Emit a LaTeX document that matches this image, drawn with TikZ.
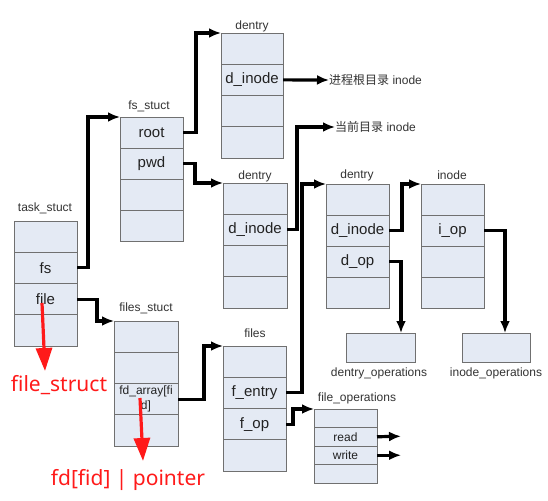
\documentclass[tikz,border=0pt]{standalone}
\usepackage{fontspec}
\setmainfont{Liberation Sans}
\newfontfamily\cjk{Noto Sans CJK SC}
\newfontfamily\redf{Noto Sans}
\usetikzlibrary{arrows.meta,calc}
\definecolor{boxgray}{HTML}{707070}
\definecolor{boxfill}{HTML}{E4EAF4}
\definecolor{txt}{HTML}{222222}
\definecolor{lbl}{HTML}{333333}
\definecolor{redc}{HTML}{FF1A1A}
\begin{document}
\begin{tikzpicture}[x=1pt,y=-1pt,
  cell/.style={draw=boxgray, fill=boxfill, line width=0.9pt, inner sep=0pt, outer sep=0pt,
    anchor=north west, minimum width=63pt, minimum height=31.25pt,
    font=\fontsize{15}{17}\selectfont, text=txt},
  smallcell/.style={cell, minimum height=18.5pt, font=\fontsize{12}{14}\selectfont},
  title/.style={font=\fontsize{12}{14}\selectfont, text=lbl, inner sep=0pt},
  conn/.style={line width=3.2pt, black, -{Latex[length=12pt,width=10pt]}},
  redarrow/.style={line width=3.2pt, redc, -{Triangle[length=23pt,width=16pt]}},
  redlbl/.style={font=\redf\fontsize{21}{24}\selectfont, text=redc, inner sep=0pt}
]
\useasboundingbox (0,0) rectangle (548,500);
\fill[white] (0,0) rectangle (548,500);

% task_stuct
\node[title] (ltask) at (45,208) {task\_stuct};
\node[cell] (t1) at (14,221) {};
\node[cell] (t2) at (14,252.25) {fs};
\node[cell] (t3) at (14,283.5) {file};
\node[cell] (t4) at (14,314.75) {};

% fs_stuct
\node[title] (lfs) at (149,106) {fs\_stuct};
\node[cell, minimum height=31pt] (f1) at (120,117) {root};
\node[cell, minimum height=31pt] (f2) at (120,148) {pwd};
\node[cell, minimum height=31pt] (f3) at (120,179) {};
\node[cell, minimum height=31pt] (f4) at (120,210) {};

% dentry (root)
\node[title] (ld1) at (252,26) {dentry};
\node[cell, minimum width=62pt] (da) at (221,33) {};
\node[cell, minimum width=62pt] (db) at (221,64.25) {d\_inode};
\node[cell, minimum width=62pt] (dc) at (221,95.5) {};
\node[cell, minimum width=62pt] (dd) at (221,126.75) {};

% dentry (pwd)
\node[title] (ld2) at (255,176) {dentry};
\node[cell, minimum width=64pt] (ea) at (223,183) {};
\node[cell, minimum width=64pt] (eb) at (223,214.25) {d\_inode};
\node[cell, minimum width=64pt] (ec) at (223,245.5) {};
\node[cell, minimum width=64pt] (ed) at (223,276.75) {};

% dentry (file)
\node[title] (ld3) at (357,175) {dentry};
\node[cell, minimum height=31pt] (ga) at (326,184) {};
\node[cell, minimum height=31pt] (gb) at (326,215) {d\_inode};
\node[cell, minimum height=31pt] (gc) at (326,246) {d\_op};
\node[cell, minimum height=31pt] (gd) at (326,277) {};

% inode
\node[title] (lin) at (452,175) {inode};
\node[cell, minimum height=31pt] (ia) at (421,184) {};
\node[cell, minimum height=31pt] (ib) at (421,215) {i\_op};
\node[cell, minimum height=31pt] (ic) at (421,246) {};
\node[cell, minimum height=31pt] (id) at (421,277) {};

% operations boxes
\node[cell, minimum width=69pt, minimum height=29pt] (dops) at (346,333) {};
\node[title] (ldops) at (379,373) {dentry\_operations};
\node[cell, minimum width=68pt, minimum height=29pt] (iops) at (462,333) {};
\node[title] (liops) at (496,373) {inode\_operations};

% files_stuct
\node[title] (lfss) at (146,308) {files\_stuct};
\node[cell, minimum width=64pt] (sa) at (114,321) {};
\node[cell, minimum width=64pt] (sb) at (114,352.25) {};
\node[cell, minimum width=64pt, font=\fontsize{12}{15.5}\selectfont, align=center] (sc) at (114,383.5) {fd\_array[fi\\d]};
\node[cell, minimum width=64pt] (sd) at (114,414.75) {};

% files
\node[title] (lfi) at (255,333) {files};
\node[cell] (ha) at (223,346) {};
\node[cell] (hb) at (223,377.25) {f\_entry};
\node[cell] (hc) at (223,408.5) {f\_op};
\node[cell] (hd) at (223,439.75) {};

% file_operations
\node[title] (lfo) at (357,398) {file\_operations};
\node[smallcell] (oa) at (314,409) {};
\node[smallcell] (ob) at (314,427.5) {read};
\node[smallcell] (oc) at (314,446) {write};
\node[smallcell] (od) at (314,464.5) {};

% inode labels
\node[title, anchor=west] (root) at (329,80) {{\cjk 进程根目录} inode};
\node[title, anchor=west] (cwd) at (335,127) {{\cjk 当前目录} inode};

% connectors
\draw[conn] (t2.east) -- ++(11,0) |- (f1.north west);
\draw[conn] (f1.east) -- ++(13,0) |- (da.north west);
\draw[conn] (f2.east) -- ++(12,0) |- (ea.north west);
\draw[conn] (db.east) -- (root.west);
\draw[conn] (eb.east) -- ++(10,0) |- (cwd.west);
\draw[conn] (t3.east) -- ++(20,0) |- (sa.north west);
\draw[conn] (sc.east) -- ++(26,0) |- (ha.north west);
\draw[conn] (hb.east) -- ++(16,0) |- (ga.north west);
\draw[conn] (gb.east) -- ++(13,0) |- (ia.north west);
\draw[conn] (gc.east) -- ++(12,0) coordinate (kd) -- (kd |- dops.north);
\draw[conn] (ib.east) -- ++(21,0) coordinate (ki) -- (ki |- iops.north);
\draw[conn] (hc.east) -- ++(7,0) |- (oa.north west);
\coordinate (rend) at (401,436.25);
\coordinate (wend) at (401,455.25);
\draw[conn] (ob.east) -- (rend);
\draw[conn] (oc.east) -- (wend);

% red annotations
\node[redlbl] (fst) at (59,385) {file\_struct};
\node[redlbl] (fdp) at (128,480) {fd[fid] | pointer};
\coordinate (r1s) at (42,303);
\coordinate (r1e) at (45,371);
\coordinate (r2s) at (140,398);
\coordinate (r2e) at (143,461);
\draw[redarrow] (r1s) -- (r1e);
\draw[redarrow] (r2s) -- (r2e);
\end{tikzpicture}
\end{document}
